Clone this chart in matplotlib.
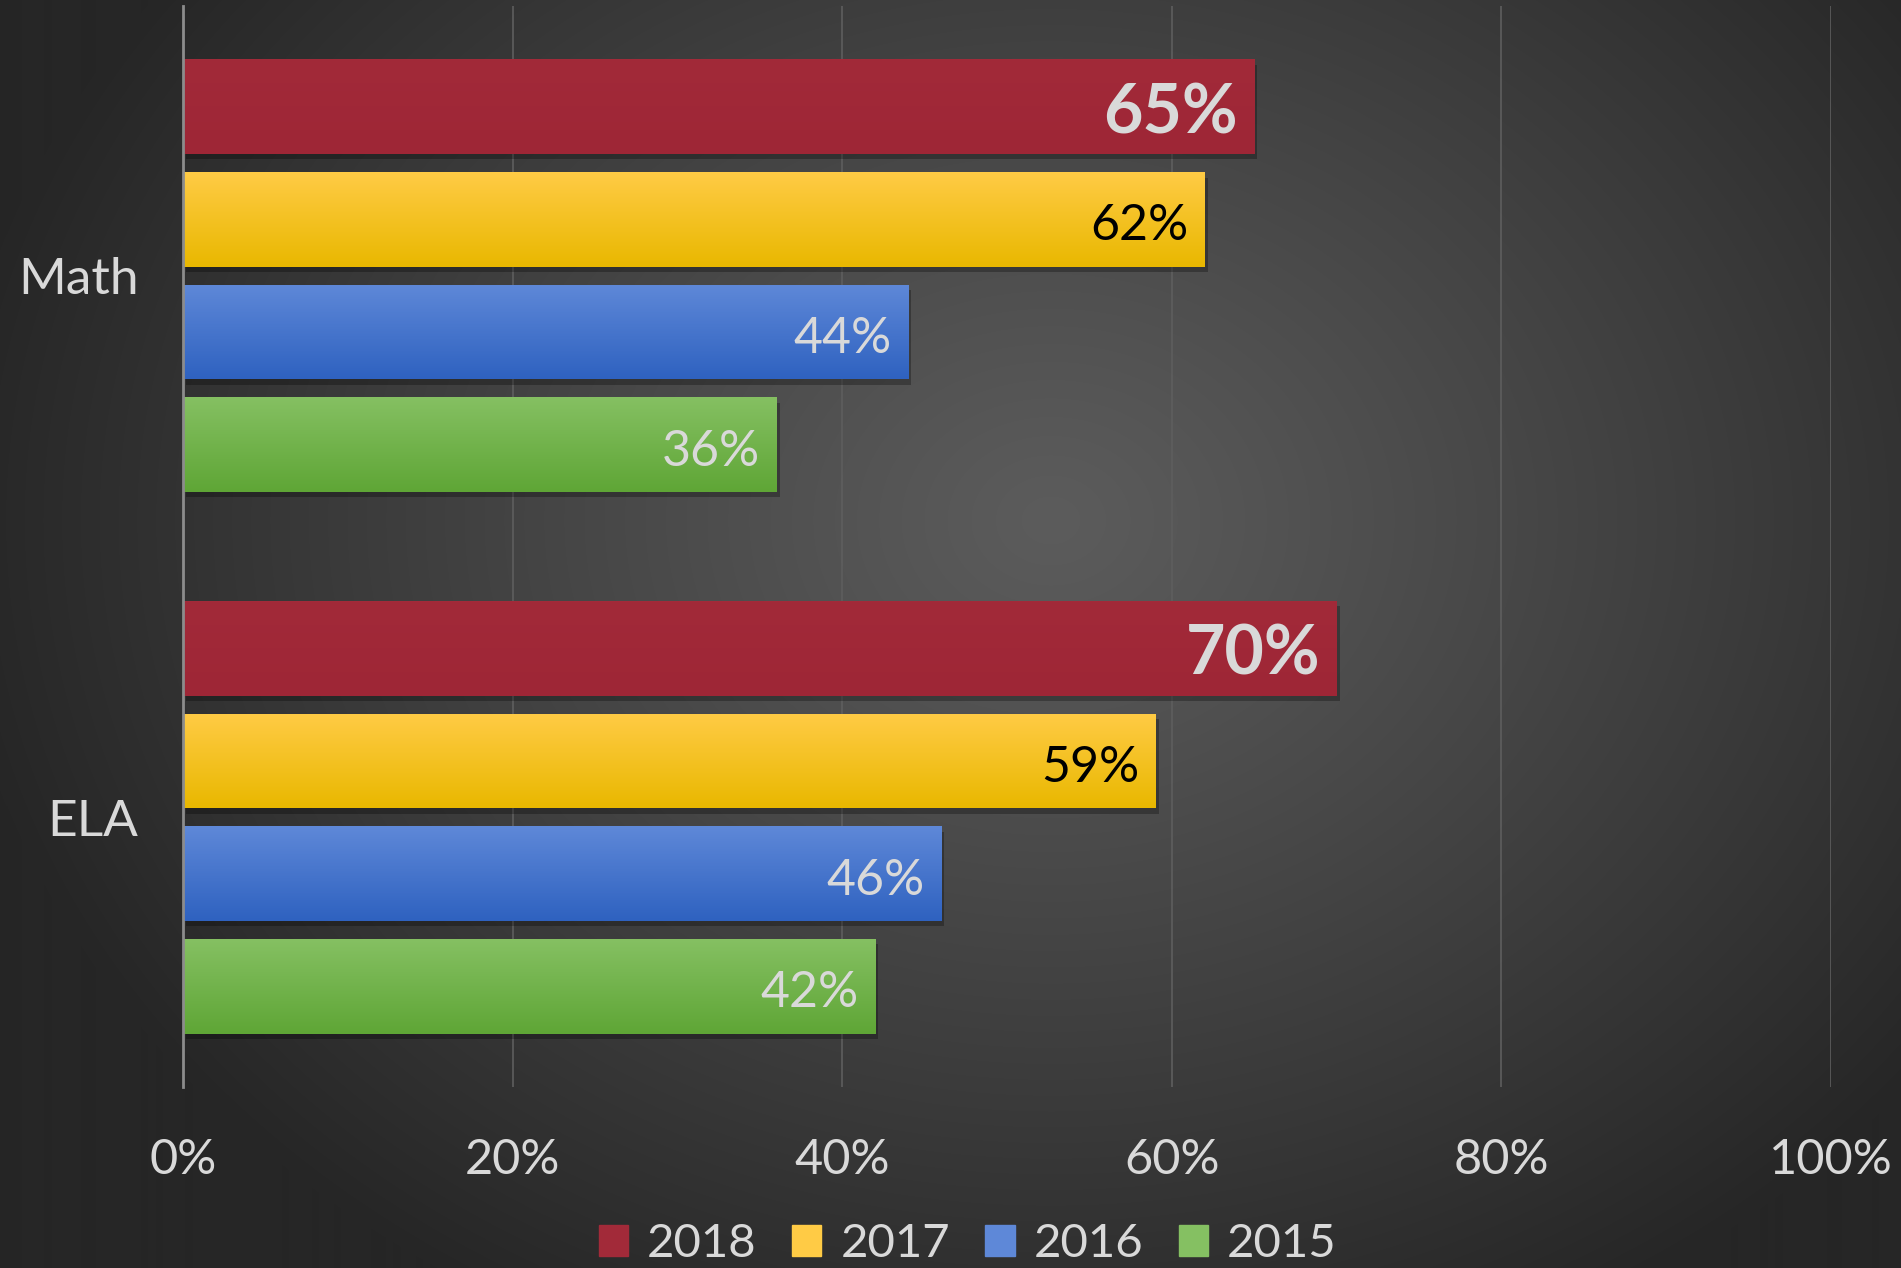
import numpy as np
import matplotlib
matplotlib.use('Agg')
from matplotlib import pyplot as plt
from matplotlib.patches import Rectangle

plt.rcParams['font.family'] = ['Lato', 'DejaVu Sans']

# data
subjects = ['ELA', 'Math']
years = ['2018', '2017', '2016', '2015']
values = {
    '2018': [70, 65],
    '2017': [59, 62],
    '2016': [46, 44],
    '2015': [42, 36],
}
x_ticks = [0, 20, 40, 60, 80, 100]

# colours: (top, bottom) of the vertical gradient on each bar
bar_colors = {
    '2018': ('#A22A39', '#9E2636'),
    '2017': ('#FFCB45', '#E9B800'),
    '2016': ('#5E88D8', '#2F62C0'),
    '2015': ('#85C062', '#5FA636'),
}
label_colors = {'2018': '#D9D9D9', '2017': '#000000', '2016': '#D9D9D9', '2015': '#D9D9D9'}
text_col = '#D9D9D9'

W, H = 1901, 1268
fig = plt.figure(figsize=(W / 100, H / 100), dpi=100)

# radial background
bg = fig.add_axes([0, 0, 1, 1], zorder=-10)
yy, xx = np.mgrid[0:H, 0:W]
r = np.sqrt(((xx - 1050) / 1100.0) ** 2 + ((yy - 520) / 900.0) ** 2)
r = np.clip(r, 0, 1)
c_in, c_out = 0x5C / 255, 0x26 / 255
shade = c_in + (c_out - c_in) * r ** 1.1
bg.imshow(np.dstack([shade] * 3), extent=(0, 1, 0, 1), aspect='auto', origin='upper')
bg.axis('off')

ax = fig.add_axes([183 / W, 181 / H, (1831 - 183) / W, (1262 - 181) / H])
ax.patch.set_alpha(0)

pitch = 0.208
bh = 0.1745
offsets = [1.5 * pitch, 0.5 * pitch, -0.5 * pitch, -1.5 * pitch]
ypos = np.arange(len(subjects))

for yr, off in zip(years, offsets):
    top, bot = bar_colors[yr]
    bars = ax.barh(ypos + off, values[yr], height=bh, color=bot, zorder=3)
    grad = np.linspace(0, 1, 64)[:, None]
    c1 = np.array(matplotlib.colors.to_rgb(top))
    c2 = np.array(matplotlib.colors.to_rgb(bot))
    img = c1[None, None, :] * (1 - grad[:, :, None]) + c2[None, None, :] * grad[:, :, None]
    for b, v in zip(bars, values[yr]):
        y0 = b.get_y()
        # shadow
        ax.add_patch(Rectangle((0.2, y0 - 0.01), v, bh, color='black', alpha=0.28,
                               zorder=2, lw=0))
        im = ax.imshow(img, extent=(0, v, y0, y0 + bh), aspect='auto', origin='upper',
                       zorder=4)
        im.set_clip_path(b)
        bold = yr == '2018'
        ax.annotate(f'{v}%', xy=(v, y0 + bh / 2), xytext=(-16, -7), textcoords='offset pixels',
                    ha='right', va='center', color=label_colors[yr],
                    fontsize=49 if bold else 36, fontweight='bold' if bold else 'normal',
                    zorder=6)

ax.set_xlim(0, 100)
ax.set_ylim(-0.498, 1.498)
ax.set_xticks(x_ticks)
ax.set_xticklabels([f'{t}%' for t in x_ticks])
ax.set_yticks(ypos)
ax.set_yticklabels(subjects)
ax.tick_params(axis='x', length=0, pad=37, labelsize=35, colors=text_col)
ax.tick_params(axis='y', length=0, pad=32, labelsize=37, colors=text_col)
ax.xaxis.grid(True, color='#5E5E5E', lw=1.2, zorder=0)
ax.set_axisbelow(True)
for s in ['top', 'right', 'bottom']:
    ax.spines[s].set_visible(False)
ax.spines['left'].set_color('#8C8C8C')
ax.spines['left'].set_linewidth(2)
ax.spines['left'].set_zorder(7)

handles = [Rectangle((0, 0), 1, 1, color=bar_colors[yr][0]) for yr in years]
leg = fig.legend(handles, years, loc='center', bbox_to_anchor=(0.509, 1 - 1244 / H), ncol=4,
                 frameon=False, fontsize=34, handlelength=0.62, handleheight=0.62,
                 handletextpad=0.4, columnspacing=0.75, labelcolor=text_col)

fig.savefig('out.png', dpi=100)
